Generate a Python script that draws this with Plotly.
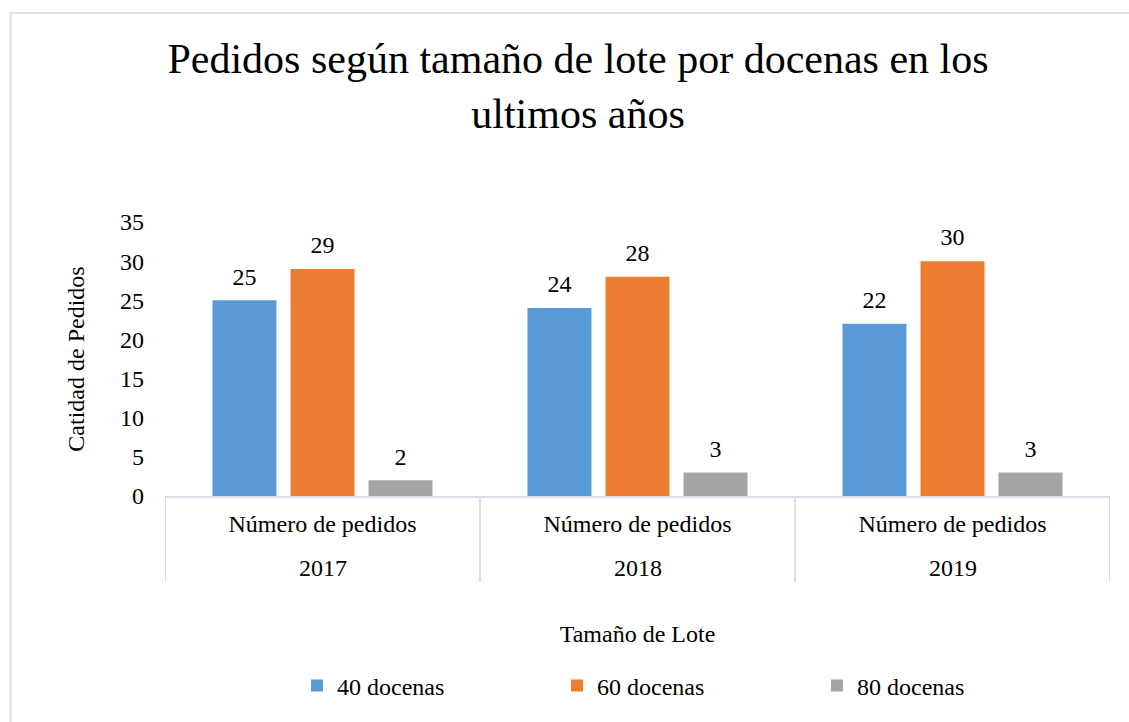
import plotly.graph_objects as go

# Chart data
years = ["2017", "2018", "2019"]
inner_label = "Número de pedidos"
series_names = ["40 docenas", "60 docenas", "80 docenas"]
pedidos_40 = [25, 24, 22]
pedidos_60 = [29, 28, 30]
pedidos_80 = [2, 3, 3]
y_ticks = [0, 5, 10, 15, 20, 25, 30, 35]

colors = ["#5B9BD5", "#ED7D31", "#A5A5A5"]
FONT = "Liberation Serif"
FRAME = "#D9DEE6"

W, H = 1129, 722
ML, MR, MT, MB = 165, 19, 222, 226
PW, PH = W - ML - MR, H - MT - MB


def px_x(p):
    return (p - ML) / PW


def px_y(p):
    return (H - MB - p) / PH


n = len(years)
idx = list(range(n))

fig = go.Figure()
for name, vals, col in zip(series_names, [pedidos_40, pedidos_60, pedidos_80], colors):
    fig.add_trace(go.Bar(
        name=name,
        x=years,
        y=vals,
        marker=dict(color=col, line=dict(width=0)),
        legendgroup=name,
    ))

# value labels, grouped the same way as the bars
for name, vals in zip(series_names, [pedidos_40, pedidos_60, pedidos_80]):
    fig.add_trace(go.Scatter(
        x=years,
        y=vals,
        mode="markers+text",
        marker=dict(size=14, opacity=0),
        text=[str(v) for v in vals],
        textposition="top center",
        textfont=dict(family=FONT, size=24, color="#000000"),
        showlegend=False,
        hoverinfo="skip",
        legendgroup=name,
        cliponaxis=False,
    ))

# category dividers under the axis
shapes = [
    dict(
        type="line", xref="x", yref="paper",
        x0=i - 0.5, x1=i - 0.5, y0=px_y(582), y1=0,
        line=dict(color=FRAME, width=2),
    )
    for i in range(n + 1)
]
# outer chart frame
shapes.append(dict(
    type="rect", xref="paper", yref="paper",
    x0=px_x(10.5), x1=px_x(W + 20),
    y0=px_y(H + 20), y1=px_y(13),
    line=dict(color=FRAME, width=2),
    fillcolor="rgba(0,0,0,0)",
    layer="below",
))

# year labels in the second row of the category axis
annotations = [
    dict(
        x=i, xref="x", y=px_y(568), yref="paper",
        text=yr, showarrow=False,
        font=dict(family=FONT, size=24, color="#000000"),
        xanchor="center", yanchor="middle",
    )
    for i, yr in zip(idx, years)
]

fig.update_layout(
    width=W,
    height=H,
    margin=dict(l=ML, r=MR, t=MT, b=MB, autoexpand=False),
    paper_bgcolor="white",
    plot_bgcolor="white",
    barmode="group",
    scattermode="group",
    bargap=0.257,
    bargroupgap=0.18,
    scattergap=0.257,
    font=dict(family=FONT, size=24, color="#000000"),
    title=dict(
        text="Pedidos según tamaño de lote por docenas en los<br>ultimos años",
        font=dict(family=FONT, size=42, color="#000000"),
        x=578 / W,
        xanchor="center",
        xref="container",
        y=1 - 73 / H,
        yanchor="top",
        yref="container",
    ),
    xaxis=dict(
        type="category",
        categoryorder="array",
        categoryarray=years,
        range=[-0.5, n - 0.5],
        tickvals=idx,
        ticktext=[inner_label] * n,
        tickangle=0,
        showline=True,
        linecolor=FRAME,
        linewidth=2,
        showgrid=False,
        zeroline=False,
        ticks="",
        ticklabelstandoff=5,
        tickfont=dict(family=FONT, size=24, color="#000000"),
        title=dict(text="Tamaño de Lote", font=dict(family=FONT, size=24, color="#000000"), standoff=89),
        automargin=False,
    ),
    yaxis=dict(
        range=[0, 35],
        tickvals=y_ticks,
        showgrid=False,
        zeroline=False,
        showline=False,
        ticks="",
        ticklabelstandoff=20,
        tickfont=dict(family=FONT, size=24, color="#000000"),
        title=dict(text="Catidad de Pedidos", font=dict(family=FONT, size=24, color="#000000"), standoff=28),
        automargin=False,
    ),
    legend=dict(
        orientation="h",
        x=px_x(297),
        xanchor="left",
        y=px_y(686),
        yanchor="middle",
        entrywidth=215,
        font=dict(family=FONT, size=24, color="#000000"),
        bgcolor="rgba(0,0,0,0)",
    ),
    shapes=shapes,
    annotations=annotations,
)

fig.write_html("out.html")
